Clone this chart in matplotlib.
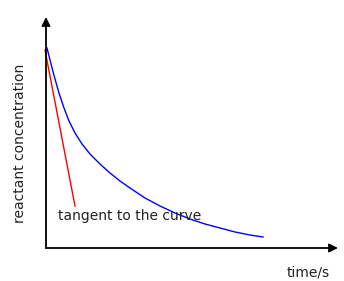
import matplotlib.pyplot as plt

# concentration vs time (arbitrary units)
time = [1, 5, 9, 13, 18, 23, 29, 36, 44, 54, 64, 74, 84, 99, 114, 129, 144, 159, 174, 189, 204, 217]
conc = [200, 184, 169, 155, 140, 127, 115, 104, 94, 84, 75, 67, 60, 50, 42, 35, 29, 24, 20, 16, 13, 11]

# tangent at the start of the curve
tan_time = [-1, 29]
tan_conc = [198, 42]

x_max = 292
y_max = 231

fig = plt.figure(figsize=(3.44, 2.81), dpi=100)
ax = fig.add_axes([46 / 344, 33 / 281, x_max / 344, y_max / 281])
ax.set_xlim(0, x_max)
ax.set_ylim(0, y_max)
ax.axis('off')

arrow = dict(arrowstyle='-|>,head_length=0.4,head_width=0.2', color='black',
             lw=1.3, mutation_scale=12.6, shrinkA=0, shrinkB=0)
ax.annotate('', xy=(x_max, 0), xytext=(0, 0), arrowprops=arrow, annotation_clip=False)
ax.annotate('', xy=(0, y_max), xytext=(0, 0), arrowprops=arrow, annotation_clip=False)

ax.plot(time, conc, color='#0000ff', lw=1.0, clip_on=False)
ax.plot(tan_time, tan_conc, color='#ff0000', lw=1.0, clip_on=False)

ax.text(12, 28, 'tangent to the curve', fontsize=10, color='#222222', va='baseline')
ax.text(241, -28, 'time/s', fontsize=10, color='#222222', va='baseline', clip_on=False)
ax.text(-26, 105, 'reactant concentration', fontsize=10, color='#222222',
        rotation=90, ha='center', va='center', clip_on=False)

fig.savefig('out.png', dpi=100)
